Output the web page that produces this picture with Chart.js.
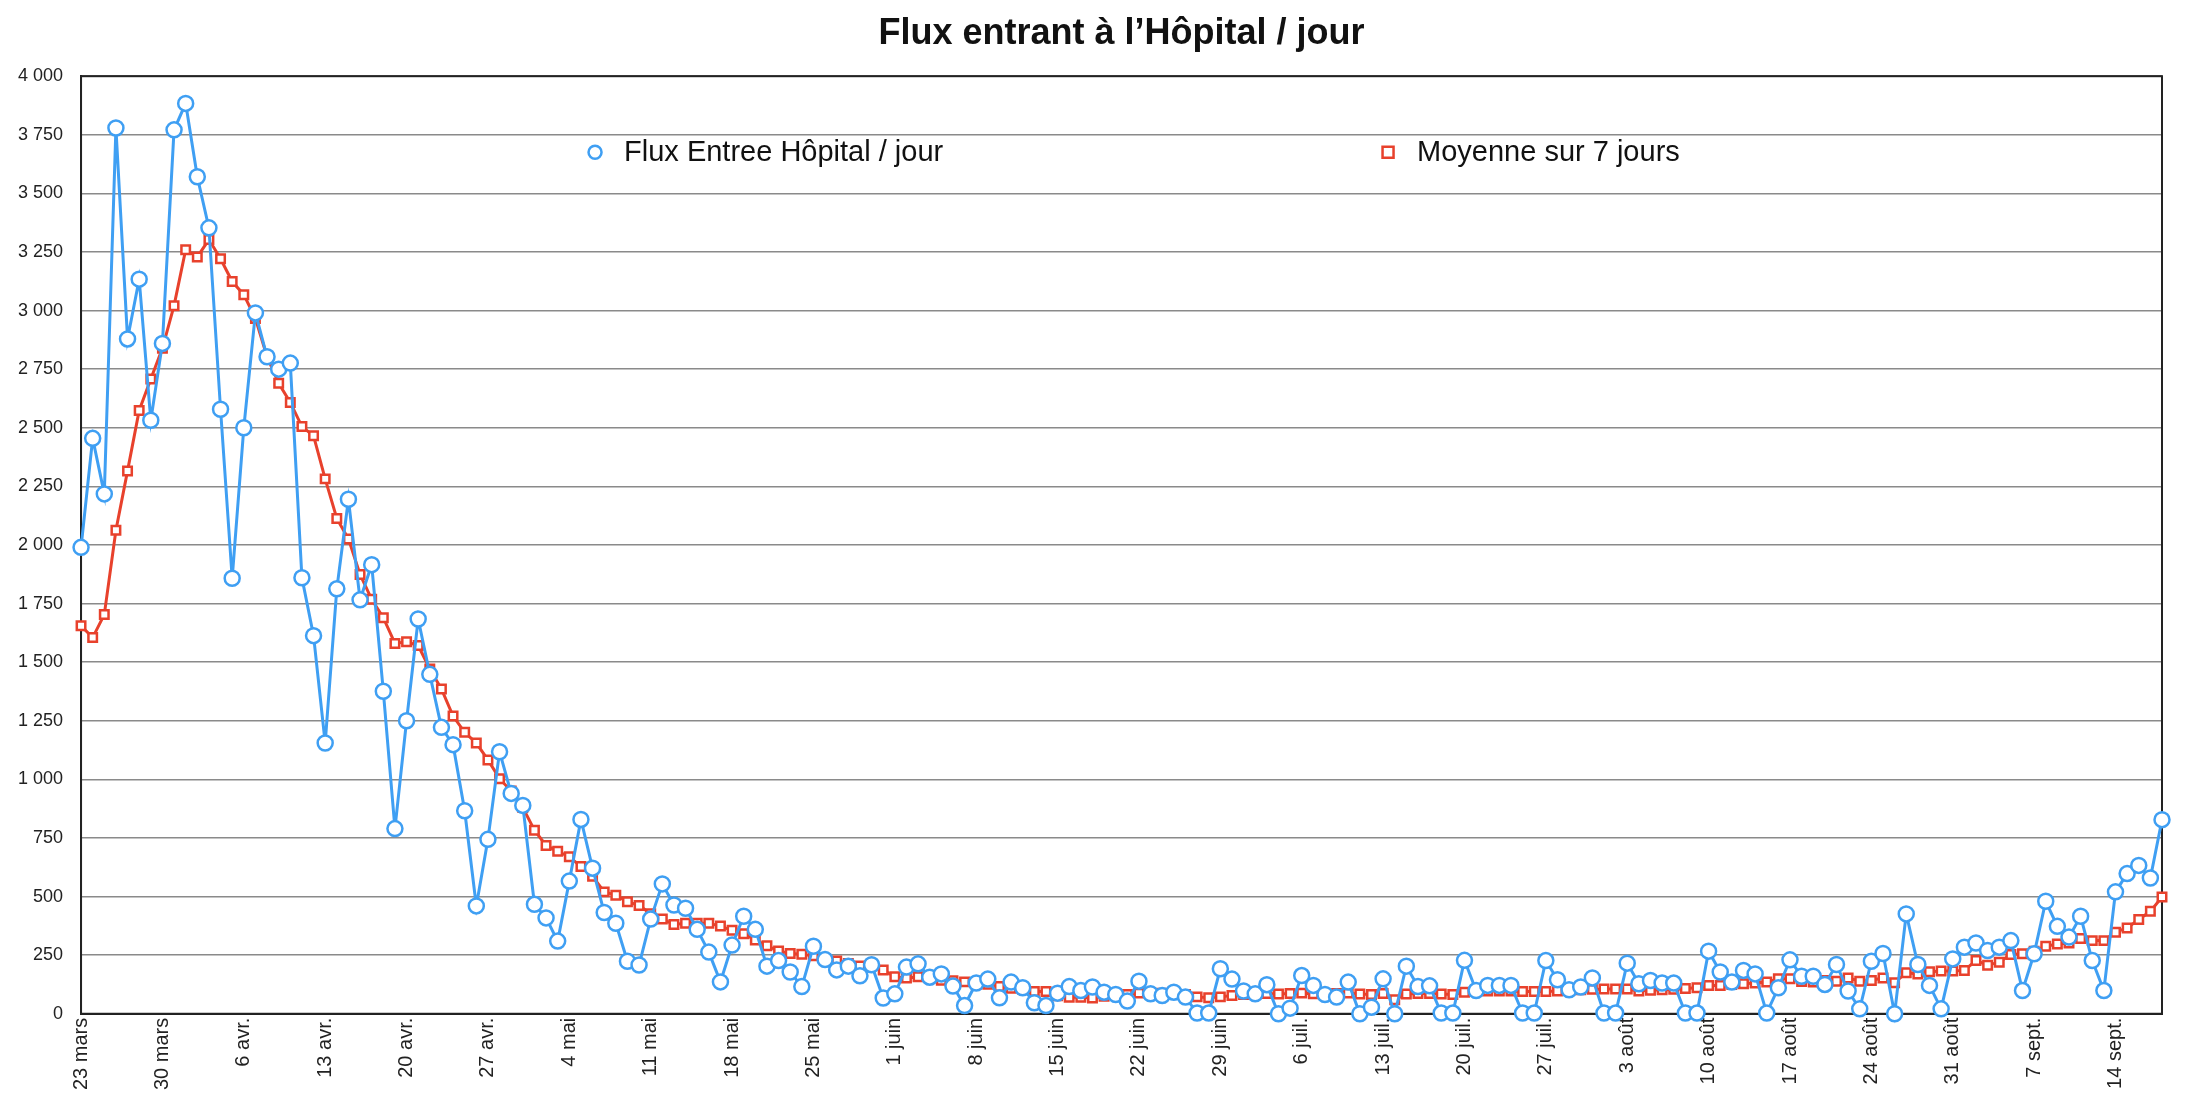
<!DOCTYPE html>
<html lang="fr">
<head>
<meta charset="utf-8">
<title>Flux entrant à l’Hôpital / jour</title>
<script src="https://cdn.jsdelivr.net/npm/chart.js@4.4.1/dist/chart.umd.min.js"></script>
<style>
    html, body { margin: 0; padding: 0; background: #fff; }
    #wrap { width: 2200px; height: 1118px; position: relative; }
</style>
</head>
<body>
<div id="wrap"><canvas id="fluxChart"></canvas></div>
<script>
// daily hospital admissions, 23 mars -> 18 sept.
const flux = [
    1990, 2455, 2218, 3779, 2879, 3134, 2532, 2860, 3771, 3884,
    3571, 3353, 2579, 1858, 2500, 2990, 2803, 2750, 2776, 1860,
    1613, 1155, 1813, 2195, 1766, 1916, 1376, 790, 1250, 1684,
    1448, 1222, 1148, 866, 460, 744, 1118, 940, 889, 467,
    409, 310, 566, 829, 621, 432, 386, 224, 208, 404,
    554, 464, 450, 360, 263, 136, 293, 416, 360, 203,
    227, 178, 116, 288, 231, 187, 203, 162, 209, 67,
    85, 199, 213, 156, 170, 118, 35, 131, 148, 68,
    135, 111, 47, 35, 88, 116, 99, 114, 92, 82,
    54, 139, 85, 78, 92, 71, 3, 3, 192, 148,
    97, 85, 124, 0, 24, 163, 121, 82, 71, 135,
    0, 28, 149, 0, 203, 116, 119, 3, 3, 228,
    99, 121, 121, 121, 3, 3, 227, 145, 102, 114,
    153, 3, 3, 216, 128, 142, 131, 131, 3, 3,
    267, 178, 135, 185, 170, 3, 111, 230, 160, 160,
    125, 210, 97, 21, 224, 257, 0, 426, 210, 121,
    21, 234, 284, 302, 270, 284, 312, 99, 256, 480,
    373, 327, 416, 227, 99, 520, 598, 633, 579, 828
];

// 7 day average
const moyenne = [
    1655, 1605, 1703, 2063, 2316, 2574, 2708, 2839, 3021, 3260,
    3229, 3303, 3221, 3124, 3068, 2966, 2803, 2690, 2608, 2505,
    2466, 2282, 2113, 2026, 1874, 1768, 1690, 1580, 1587, 1571,
    1471, 1386, 1270, 1201, 1155, 1083, 1003, 950, 880, 783,
    718, 693, 670, 628, 587, 520, 506, 478, 462, 427,
    404, 381, 386, 386, 386, 374, 356, 341, 315, 290,
    268, 257, 254, 247, 235, 225, 214, 204, 209, 187,
    158, 152, 158, 152, 143, 141, 136, 126, 126, 116,
    109, 105, 95, 95, 77, 70, 70, 67, 75, 78,
    82, 88, 90, 88, 85, 82, 72, 68, 72, 78,
    82, 85, 86, 84, 86, 88, 85, 84, 86, 88,
    84, 82, 86, 60, 84, 86, 86, 84, 82, 92,
    95, 97, 97, 97, 95, 95, 95, 97, 100, 102,
    104, 106, 106, 106, 97, 100, 102, 104, 108, 111,
    121, 121, 125, 128, 131, 135, 149, 149, 138, 135,
    142, 139, 153, 139, 142, 153, 132, 175, 170, 179,
    182, 182, 185, 227, 207, 220, 253, 256, 267, 288,
    298, 302, 321, 312, 312, 348, 366, 402, 437, 498
];

// one label every 7 days (mondays)
const weekLabels = [
    '23 mars', '30 mars', '6 avr.', '13 avr.', '20 avr.', '27 avr.',
    '4 mai', '11 mai', '18 mai', '25 mai', '1 juin', '8 juin', '15 juin',
    '22 juin', '29 juin', '6 juil.', '13 juil.', '20 juil.', '27 juil.',
    '3 août', '10 août', '17 août', '24 août', '31 août', '7 sept.', '14 sept.'
];

const seriesNames = ['Flux Entree Hôpital / jour', 'Moyenne sur 7 jours'];

const blue = '#3f9ff3';
const red = '#e8412c';
const fontFamily = '"Liberation Sans", Arial, Helvetica, sans-serif';

// formats 3750 as "3 750"
function frNumber(v) {
    if (v < 1000) return String(v);
    return Math.floor(v / 1000) + ' ' + String(v % 1000).padStart(3, '0');
}

// box round the plot area
const framePlugin = {
    id: 'frame',
    beforeDatasetsDraw: (chart) => {
        const ctx = chart.ctx;
        const a = chart.chartArea;
        ctx.save();
        ctx.strokeStyle = '#222';
        ctx.lineWidth = 2;
        ctx.strokeRect(a.left, a.top, a.right - a.left, a.bottom - a.top);
        ctx.restore();
    }
};

// legend sits inside the plot, two entries far apart
const legendPlugin = {
    id: 'insideLegend',
    afterDraw: (chart) => {
        const ctx = chart.ctx;
        const a = chart.chartArea;
        const y = a.top + 76;
        const items = [
            { x: a.left + 514, name: seriesNames[0], color: blue, style: 'circle' },
            { x: a.left + 1307, name: seriesNames[1], color: red, style: 'rect' }
        ];
        ctx.save();
        items.forEach(item => {
            ctx.lineWidth = 2.5;
            ctx.strokeStyle = item.color;
            ctx.fillStyle = '#fff';
            ctx.beginPath();
            if (item.style === 'circle') {
                ctx.arc(item.x, y, 6.5, 0, Math.PI * 2);
            } else {
                ctx.rect(item.x - 5.5, y - 5.5, 11, 11);
            }
            ctx.fill();
            ctx.stroke();
            ctx.fillStyle = '#111';
            ctx.font = '29px ' + fontFamily;
            ctx.textAlign = 'left';
            ctx.textBaseline = 'middle';
            ctx.fillText(item.name, item.x + 29, y + 1);
        });
        ctx.restore();
    }
};

const ctx = document.getElementById('fluxChart').getContext('2d');
const chart = new Chart(ctx, {
    type: 'line',
    data: {
        labels: flux.map((_, i) => i),
        datasets: [{
            label: seriesNames[0],
            data: flux,
            borderColor: blue,
            borderWidth: 3,
            pointStyle: 'circle',
            pointRadius: 7.5,
            pointBorderWidth: 2.5,
            pointBackgroundColor: '#fff',
            pointBorderColor: blue,
            tension: 0,
            clip: false
        }, {
            label: seriesNames[1],
            data: moyenne,
            borderColor: red,
            borderWidth: 3,
            pointStyle: 'rect',
            pointRadius: 6,
            pointBorderWidth: 2.5,
            pointBackgroundColor: '#fff',
            pointBorderColor: red,
            tension: 0,
            clip: false
        }]
    },
    options: {
        responsive: true,
        maintainAspectRatio: false,
        animation: false,
        layout: {
            padding: { left: 0, right: 38, top: 8, bottom: 24 }
        },
        scales: {
            x: {
                offset: false,
                grid: { display: false, drawTicks: false },
                border: { color: '#222', width: 2 },
                ticks: {
                    autoSkip: false,
                    minRotation: 90,
                    maxRotation: 90,
                    padding: 4,
                    color: '#222',
                    font: { family: fontFamily, size: 20 },
                    callback: (value, index) => index % 7 === 0 ? weekLabels[index / 7] : ''
                }
            },
            y: {
                min: 0,
                max: 4000,
                grid: { color: '#8a8a8a', lineWidth: 1.5, drawTicks: false },
                border: { color: '#222', width: 2 },
                ticks: {
                    stepSize: 250,
                    padding: 18,
                    color: '#222',
                    font: { family: fontFamily, size: 18 },
                    callback: (value) => frNumber(value)
                }
            }
        },
        plugins: {
            legend: { display: false },
            tooltip: { enabled: false },
            title: {
                display: true,
                fullSize: false,
                text: 'Flux entrant à l’Hôpital / jour',
                color: '#111',
                font: { family: fontFamily, size: 36, weight: 'bold' },
                padding: { top: 4, bottom: 21 }
            }
        }
    },
    plugins: [framePlugin, legendPlugin]
});
</script>
</body>
</html>
